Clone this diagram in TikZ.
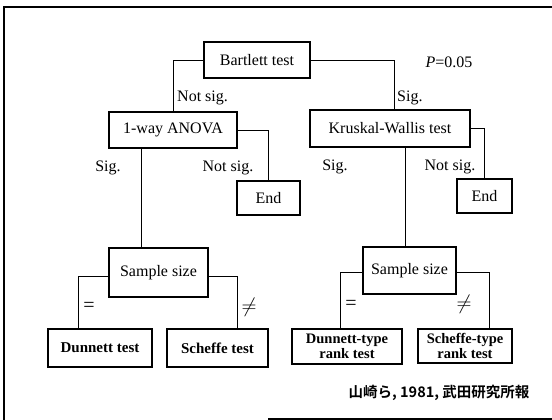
\documentclass[tikz,border=0pt]{standalone}
\usepackage{fontspec}
\setmainfont{Liberation Serif}
\newfontfamily\cjk{Noto Sans CJK JP}[BoldFont={Noto Sans CJK JP Bold}]
\usetikzlibrary{calc}
\tikzset{
  % box of the flow chart
  test box/.style={draw,line width=1.1pt,inner sep=0pt,align=center,
    minimum width=#1},
  lbl/.style={inner sep=0pt},
}
\begin{document}
\begin{tikzpicture}[x=1pt,y=-1pt,font=\fontsize{16}{17}\selectfont]
\useasboundingbox (0,0) rectangle (552,420);

% frame of the scanned slide
\draw[line width=2pt] (552,7) -- (4,7) -- (4,420);
\draw[line width=1.6pt] (268,419) -- (552,419);

\node[test box=106,minimum height=36] (bart) at (257,60) {Bartlett test};
\node[test box=128,minimum height=36] (anova) at (173,130) {1-way ANOVA};
\node[test box=160,minimum height=37] (kw) at (390,128.5) {Kruskal-Wallis test};
\node[test box=63,minimum height=34] (endA) at (268.5,198) {End};
\node[test box=55,minimum height=34] (endK) at (484.5,196) {End};
\node[test box=99,minimum height=49] (ssA) at (158.5,272.5) {Sample size};
\node[test box=93,minimum height=47] (ssK) at (409.5,270.5) {Sample size};
\node[test box=104,minimum height=38,font=\fontsize{15}{15.5}\selectfont\bfseries] (dun) at (100,348) {Dunnett test};
\node[test box=101,minimum height=38,font=\fontsize{15}{15.5}\selectfont\bfseries] (sch) at (217.5,348) {Scheffe test};
\node[test box=110,minimum height=35,font=\fontsize{14.5}{15}\selectfont\bfseries] (dunR) at (347,346.5) {Dunnett-type\\rank test};
\node[test box=94,minimum height=34,font=\fontsize{14.5}{15}\selectfont\bfseries] (schR) at (465,346) {Scheffe-type\\rank test};

% where the legs come down
\coordinate (dropA) at (141,0);
\coordinate (dropK) at (405,0);
\coordinate (legA) at (78,0);
\coordinate (legB) at (237,0);
\coordinate (legC) at (340,0);
\coordinate (legD) at (489,0);

\draw[line width=0.9pt] (bart.west) -| (anova.north);
\draw[line width=0.9pt] (bart.east) -| ([xshift=4]kw.north);
\draw[line width=0.9pt] (anova.east) -| (endA.north);
\draw[line width=0.9pt] (kw.east) -| (endK.north);
\draw[line width=0.9pt] (anova.south -| dropA) -- (ssA.north -| dropA);
\draw[line width=0.9pt] (kw.south -| dropK) -- (ssK.north -| dropK);
\draw[line width=0.9pt] ([yshift=-4]ssA.west) -| (dun.north -| legA);
\draw[line width=0.9pt] ([yshift=-4]ssA.east) -| (sch.north -| legB);
\draw[line width=0.9pt] ([yshift=-2]ssK.west) -| (dunR.north -| legC);
\draw[line width=0.9pt] ([yshift=-2]ssK.east) -| (schR.north -| legD);

\node[lbl] (pval) at (449,62) {\textit{P}=0.05};
\node[lbl,anchor=west] (nsB) at (177,98) {Not sig.};
\node[lbl,anchor=west] (sB) at (397,98) {Sig.};
\node[lbl] (sA) at (108,168) {Sig.};
\node[lbl] (nsA) at (228,168) {Not sig.};
\node[lbl] (sK) at (335,167) {Sig.};
\node[lbl] (nsK) at (450,167) {Not sig.};
\node[lbl,font=\fontsize{20}{20}\selectfont] (eqA) at (89,307) {=};
\node[lbl,font=\fontsize{20}{20}\selectfont] (neA) at (249,307) {$\neq$};
\node[lbl,font=\fontsize{20}{20}\selectfont] (eqK) at (351,305) {=};
\node[lbl,font=\fontsize{20}{20}\selectfont] (neK) at (464,304) {$\neq$};

\node[lbl,font=\cjk\bfseries\fontsize{14.5}{15}\selectfont] (cite) at (439,393) {山崎ら, 1981, 武田研究所報};

\end{tikzpicture}
\end{document}
